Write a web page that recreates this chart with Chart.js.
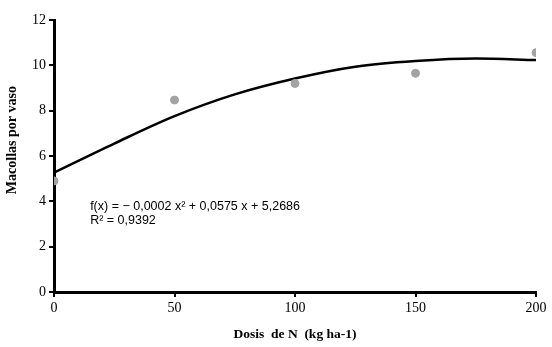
<!DOCTYPE html>
<html lang="es">
<head>
<meta charset="UTF-8">
<title>Macollas por vaso</title>
<script src="https://cdn.jsdelivr.net/npm/chart.js"></script>
<style>
  html, body { margin: 0; padding: 0; background: #fff; }
  #wrap { width: 552px; height: 347px; }
</style>
</head>
<body>
<div id="wrap"><canvas id="chart" width="552" height="347"></canvas></div>
<script>
// dosis de N (kg ha-1) and observed macollas
const doses = [0, 50, 100, 150, 200];
const macollas = [4.9, 8.47, 9.2, 9.65, 10.56];

// fitted curve
const fitDoses = [0, 25, 50, 75, 100, 125, 150, 175, 200];
const fitValues = [5.27, 6.55, 7.76, 8.72, 9.42, 9.94, 10.19, 10.3, 10.23];

const eqLines = ['f(x) = \u2212 0,0002 x\u00b2 + 0,0575 x + 5,2686', 'R\u00b2 = 0,9392'];
const yTitle = 'Macollas por vaso';

const serif = "'Liberation Serif', 'Times New Roman', serif";

// equation text + y title (title sits a bit above the middle in the original)
const extras = {
  id: 'extras',
  afterDatasetsDraw(chart) {
    const ctx = chart.ctx;
    const sx = chart.scales.x, sy = chart.scales.y;
    ctx.save();
    ctx.fillStyle = '#000';
    ctx.font = "12.5px 'Liberation Sans', Arial, sans-serif";
    ctx.textBaseline = 'middle';
    const x = sx.getPixelForValue(15);
    const y = sy.getPixelForValue(3.75);
    eqLines.forEach((t, i) => ctx.fillText(t, x, y + i * 14));

    ctx.translate(12, sy.getPixelForValue(6.7));
    ctx.rotate(-Math.PI / 2);
    ctx.textAlign = 'center';
    ctx.font = 'bold 14px ' + serif;
    ctx.fillText(yTitle, 0, 0);
    ctx.restore();
  }
};

new Chart(document.getElementById('chart'), {
  type: 'scatter',
  data: {
    datasets: [{
      data: fitDoses.map((d, i) => ({ x: d, y: fitValues[i] })),
      showLine: true,
      borderColor: '#000',
      borderWidth: 2.5,
      pointRadius: 0,
      cubicInterpolationMode: 'monotone',
      order: 2
    }, {
      data: doses.map((d, i) => ({ x: d, y: macollas[i] })),
      backgroundColor: '#a3a3a3',
      borderColor: '#a3a3a3',
      pointRadius: 4,
      order: 1
    }]
  },
  options: {
    responsive: false,
    animation: false,
    layout: { padding: { top: 20, right: 16, left: 0, bottom: 0 } },
    plugins: { legend: { display: false }, tooltip: { enabled: false } },
    scales: {
      x: {
        type: 'linear',
        min: 0, max: 200,
        afterFit(s) { s.height = 55; },
        ticks: { stepSize: 50, color: '#000', font: { family: serif, size: 14 }, padding: 3 },
        grid: { drawOnChartArea: false, color: '#000', lineWidth: 2, tickLength: 5 },
        border: { color: '#000', width: 3 },
        title: { display: true, text: 'Dosis  de N  (kg ha-1)', color: '#000',
                 font: { family: serif, size: 13.5, weight: 'bold' }, padding: { top: 8 } }
      },
      y: {
        min: 0, max: 12,
        afterFit(s) { s.width = 54; },
        ticks: { stepSize: 2, color: '#000', font: { family: serif, size: 14 }, padding: 3 },
        grid: { drawOnChartArea: false, color: '#000', lineWidth: 2, tickLength: 5 },
        border: { color: '#000', width: 3 }
      }
    }
  },
  plugins: [extras]
});
</script>
</body>
</html>
